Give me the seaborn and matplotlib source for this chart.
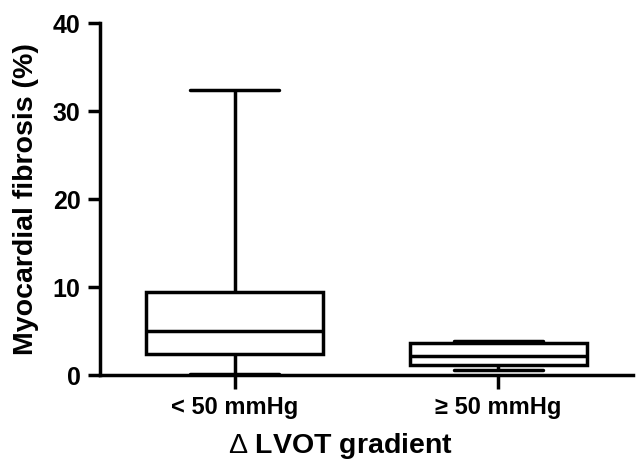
import matplotlib
matplotlib.use("Agg")
import matplotlib.pyplot as plt
import numpy as np
import pandas as pd
import seaborn as sns

#data: min, q1, median, q3, max per group
GROUPS = ["< 50 mmHg", "\u2265 50 mmHg"]
LOW_GRADIENT = [0.2, 2.45, 5.1, 9.45, 32.4]
HIGH_GRADIENT = [0.6, 1.15, 2.25, 3.7, 3.9]
Y_TICKS = [0, 10, 20, 30, 40]

df = pd.DataFrame({
    "group": [GROUPS[0]] * len(LOW_GRADIENT) + [GROUPS[1]] * len(HIGH_GRADIENT),
    "fibrosis": LOW_GRADIENT + HIGH_GRADIENT,
})

sns.set_style("ticks")
plt.rcParams.update({
    "font.family": ["Liberation Sans", "DejaVu Sans"],
    "font.weight": "bold",
    "axes.labelweight": "bold",
    "text.color": "black",
    "axes.labelcolor": "black",
    "xtick.color": "black",
    "ytick.color": "black",
    "mathtext.fontset": "custom",
    "mathtext.rm": "Liberation Sans:weight=normal",
})

LW = 2.5

fig = plt.figure(figsize=(6.38, 4.65), dpi=100)
ax = fig.add_axes([0.157, 0.1925, 0.835, 0.7574])

#whiskers go min to max (GraphPad style)
sns.boxplot(
    data=df, x="group", y="fibrosis", ax=ax,
    whis=(0, 100), width=0.67, color="white", linecolor="black",
    linewidth=LW, showfliers=False, saturation=1,
    boxprops=dict(joinstyle="miter"),
)

ax.set_xlim(-0.51, 1.51)
ax.set_ylim(0, 40)
ax.set_yticks(Y_TICKS)

for side in ["top", "right"]:
    ax.spines[side].set_visible(False)
for side in ["left", "bottom"]:
    ax.spines[side].set_linewidth(LW)
    ax.spines[side].set_color("black")

ax.tick_params(axis="y", direction="out", length=9, width=LW,
               labelsize=18, pad=5)
ax.tick_params(axis="x", direction="out", length=10, width=LW,
               labelsize=17, pad=5)

ax.set_ylabel("Myocardial fibrosis (%)", fontsize=20.5)
ax.set_xlabel(r"$\Delta$ LVOT gradient", fontsize=20.5)
ax.yaxis.set_label_coords(-0.115, 0.5)
ax.xaxis.set_label_coords(0.452, -0.158)

fig.savefig("out.png", dpi=100)
plt.close()
